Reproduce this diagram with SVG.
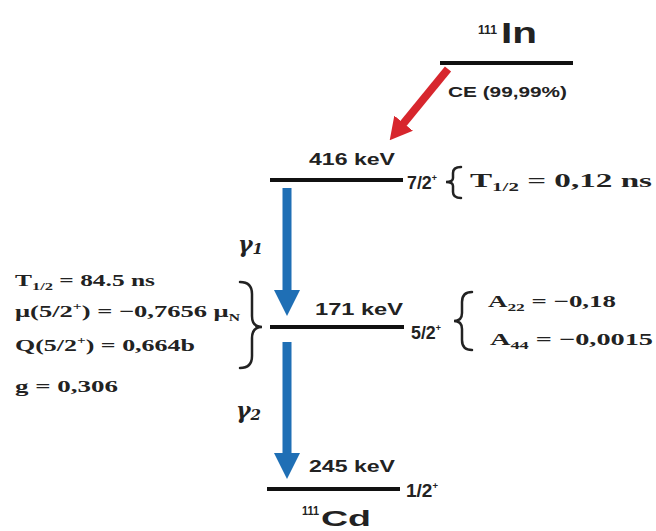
<svg xmlns="http://www.w3.org/2000/svg" width="656" height="531" viewBox="0 0 656 531">
<style>
.sans{font-family:"Liberation Sans",Arial,sans-serif;font-weight:bold;fill:#222}
.serif{font-family:"Liberation Serif","Times New Roman",serif;font-weight:bold;fill:#222}
.gam{font-family:"DejaVu Serif","Liberation Serif",serif;font-style:italic;font-weight:bold;fill:#222}
.lvl{stroke:#111;stroke-width:4;fill:none}
.brace{stroke:#222;stroke-width:2.5;fill:none;stroke-linecap:round}
.gray{stroke:#1f6fb5;stroke-width:9;fill:none}
.ce{stroke:#d7262d;stroke-width:8;fill:none}
</style>
<defs>
<marker id="hb" markerUnits="userSpaceOnUse" markerWidth="26" markerHeight="26" refX="1" refY="13" orient="auto"><path d="M0,0 L26,13 L0,26 z" fill="#1f6fb5"/></marker>
<marker id="hr" markerUnits="userSpaceOnUse" markerWidth="22" markerHeight="24" refX="1" refY="12" orient="auto"><path d="M0,0 L22,12 L0,24 z" fill="#d7262d"/></marker>
</defs>
<rect width="656" height="531" fill="#fff"/>
<g id="In111">
<line class="lvl" x1="440" y1="63" x2="573" y2="63"/>
<text class="sans" x="478" y="34" font-size="13" textLength="19" lengthAdjust="spacingAndGlyphs">111</text>
<text class="sans" x="501" y="43" font-size="30" textLength="36" lengthAdjust="spacingAndGlyphs">In</text>
</g>
<g id="level416">
<line class="lvl" x1="270" y1="180" x2="403" y2="180"/>
<text class="sans" x="309" y="165" font-size="17" textLength="86" lengthAdjust="spacingAndGlyphs">416 keV</text>
<text class="sans" x="407" y="189" font-size="18" textLength="30" lengthAdjust="spacingAndGlyphs">7/2<tspan font-size="9" dy="-8">+</tspan></text>
<path class="brace" d="M461,167 Q453,167 453,173 L453,178 Q453,182 446,182 Q453,182 453,186 L453,192 Q453,198 461,198"/>
<text class="serif" x="470" y="187" font-size="19" textLength="182" lengthAdjust="spacingAndGlyphs">T<tspan font-size="12" dy="4">1/2</tspan><tspan dy="-4"> = 0,12 ns</tspan></text>
</g>
<g id="level171">
<line class="lvl" x1="270" y1="327" x2="404" y2="327"/>
<text class="sans" x="315" y="315" font-size="17" textLength="88" lengthAdjust="spacingAndGlyphs">171 keV</text>
<text class="sans" x="411" y="339" font-size="18" textLength="30" lengthAdjust="spacingAndGlyphs">5/2<tspan font-size="9" dy="-8">+</tspan></text>
<path class="brace" d="M472,292 Q462,292 462,302 L462,313 Q462,321 454,321 Q462,321 462,329 L462,340 Q462,350 472,350"/>
<text class="serif" x="488" y="307" font-size="17" textLength="128" lengthAdjust="spacingAndGlyphs">A<tspan font-size="11" dy="4">22</tspan><tspan dy="-4"> = −0,18</tspan></text>
<text class="serif" x="490" y="345" font-size="17" textLength="163" lengthAdjust="spacingAndGlyphs">A<tspan font-size="11" dy="4">44</tspan><tspan dy="-4"> = −0,0015</tspan></text>
<path class="brace" d="M240,282 Q252,282 252,294 L252,316 Q252,327 262,327 Q252,327 252,338 L252,356 Q252,368 240,368"/>
<text class="serif" x="15" y="286" font-size="17" textLength="140" lengthAdjust="spacingAndGlyphs">T<tspan font-size="11" dy="4">1/2</tspan><tspan dy="-4"> = 84.5 ns</tspan></text>
<text class="serif" x="15" y="317" font-size="17" textLength="225" lengthAdjust="spacingAndGlyphs">μ(5/2<tspan font-size="10" dy="-7">+</tspan><tspan dy="7">) = −0,7656 μ</tspan><tspan font-size="10" dy="4">N</tspan></text>
<text class="serif" x="15" y="351" font-size="17" textLength="180" lengthAdjust="spacingAndGlyphs">Q(5/2<tspan font-size="10" dy="-7">+</tspan><tspan dy="7">) = 0,664b</tspan></text>
<text class="serif" x="15" y="392" font-size="17" textLength="103" lengthAdjust="spacingAndGlyphs">g = 0,306</text>
</g>
<g id="level245">
<line class="lvl" x1="267" y1="489" x2="400" y2="489"/>
<text class="sans" x="309" y="472" font-size="17" textLength="86" lengthAdjust="spacingAndGlyphs">245 keV</text>
<text class="sans" x="406" y="497" font-size="18" textLength="32" lengthAdjust="spacingAndGlyphs">1/2<tspan font-size="9" dy="-8">+</tspan></text>
<text class="sans" x="302" y="515" font-size="13" textLength="17" lengthAdjust="spacingAndGlyphs">111</text>
<text class="sans" x="321" y="526" font-size="22" textLength="50" lengthAdjust="spacingAndGlyphs" font-weight="normal">Cd</text>
</g>
<g id="connectors">
<line class="ce" x1="448" y1="69" x2="403" y2="124" marker-end="url(#hr)"/>
<line class="gray" x1="287" y1="188" x2="287" y2="291" marker-end="url(#hb)"/>
<line class="gray" x1="287" y1="342" x2="287" y2="454" marker-end="url(#hb)"/>
<text class="gam" x="238" y="252" font-size="22">γ<tspan font-size="15" dy="2">1</tspan></text>
<text class="gam" x="236" y="418" font-size="22">γ<tspan font-size="15" dy="2">2</tspan></text>
<text class="sans" x="448" y="97" font-size="14" textLength="119" lengthAdjust="spacingAndGlyphs">CE (99,99%)</text>
</g>
</svg>
